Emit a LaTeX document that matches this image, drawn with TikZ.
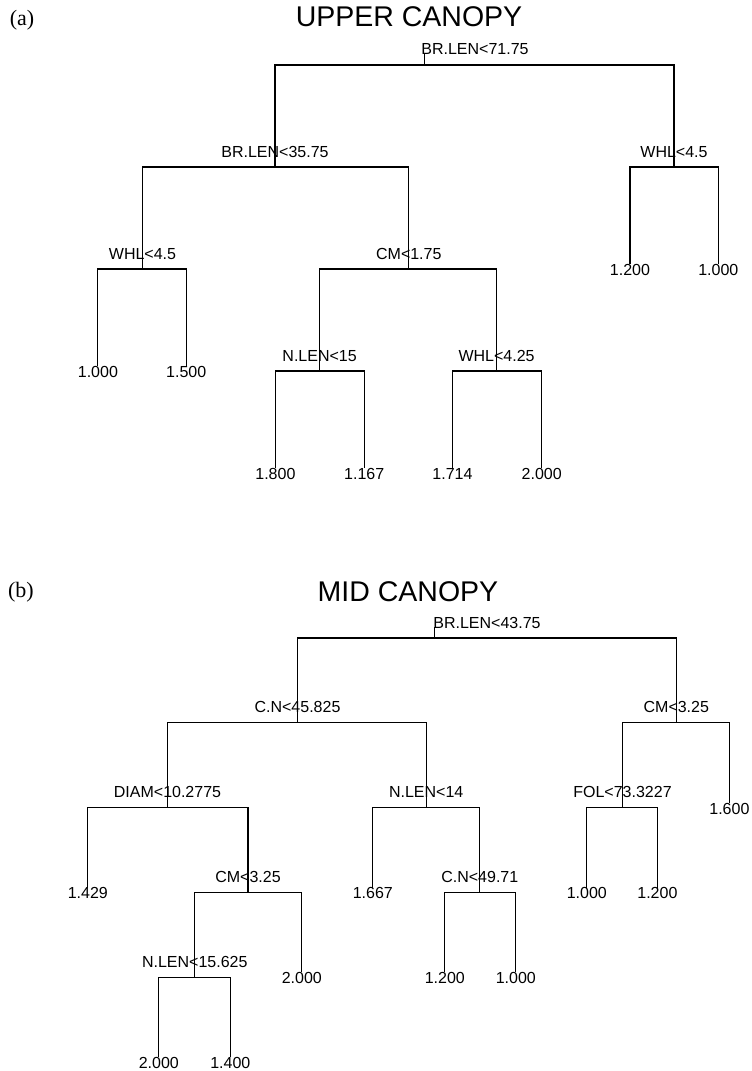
\documentclass[tikz,border=0pt]{standalone}
\usepackage{fontspec}
\setmainfont{Liberation Sans}
\newfontfamily\panelfont{Liberation Serif}
\usetikzlibrary{positioning}

\tikzset{
  branch/.style={line width=1.1pt},
  split/.style={font=\fontsize{16}{18}\selectfont, inner sep=0pt},
  leaf/.style={font=\fontsize{16}{18}\selectfont, inner sep=0pt},
  treetitle/.style={font=\fontsize{28.5}{32}\selectfont, inner sep=0pt},
  panel/.style={font=\panelfont\fontsize{22}{24}\selectfont, inner sep=0pt},
}

\begin{document}
\begin{tikzpicture}[x=1pt,y=-1pt]
  \useasboundingbox (0,0) rectangle (752,1071);

  % (a) upper canopy
  \node[panel] (pa) at (22,20) {(a)};
  \node[treetitle] (ttla) at (409,17) {UPPER CANOPY};

  \coordinate (a0top) at (424.7,54);
  \coordinate (a0) at (424.7,65);
  \node[split] (a0lab) at (475,49.5) {BR.LEN<71.75};
  \coordinate (a1) at (275,167);
  \coordinate (a2) at (674,167);
  \coordinate (a11) at (142.5,269);
  \coordinate (a12) at (408.8,269);
  \coordinate (a121) at (319.6,371);
  \coordinate (a122) at (496.6,371);
  \node[split,above=9.5pt] (a1lab) at (a1) {BR.LEN<35.75};
  \node[split,above=9.5pt] (a2lab) at (a2) {WHL<4.5};
  \node[split,above=9.5pt] (a11lab) at (a11) {WHL<4.5};
  \node[split,above=9.5pt] (a12lab) at (a12) {CM<1.75};
  \node[split,above=9.5pt] (a121lab) at (a121) {N.LEN<15};
  \node[split,above=9.5pt] (a122lab) at (a122) {WHL<4.25};

  \node[leaf] (a21) at (630,270) {1.200};
  \node[leaf] (a22) at (718.3,270) {1.000};
  \node[leaf] (a111) at (97.9,372) {1.000};
  \node[leaf] (a112) at (186.2,372) {1.500};
  \node[leaf] (a1211) at (275.4,474) {1.800};
  \node[leaf] (a1212) at (364.2,474) {1.167};
  \node[leaf] (a1221) at (452.5,474) {1.714};
  \node[leaf] (a1222) at (541.7,474) {2.000};

  \draw[branch] (a0top) -- (a0);
  \foreach \p/\c in {a0/a1, a0/a2, a1/a11, a1/a12, a12/a121, a12/a122,
                     a2/a21.north, a2/a22.north, a11/a111.north, a11/a112.north,
                     a121/a1211.north, a121/a1212.north,
                     a122/a1221.north, a122/a1222.north}
    \draw[branch] (\p) -| (\c);

  % (b) mid canopy
  \node[panel] (pb) at (21,592) {(b)};
  \node[treetitle] (ttlb) at (408,592) {MID CANOPY};

  \coordinate (b0top) at (434.7,627);
  \coordinate (b0) at (434.7,638);
  \node[split] (b0lab) at (487,622.5) {BR.LEN<43.75};
  \coordinate (b1) at (297.5,722.8);
  \coordinate (b2) at (676.3,722.8);
  \coordinate (b11) at (167.5,807.6);
  \coordinate (b12) at (426.2,807.6);
  \coordinate (b21) at (622.5,807.6);
  \coordinate (b112) at (248,892.4);
  \coordinate (b122) at (479.8,892.4);
  \coordinate (b1121) at (194.8,977.2);
  \node[split,above=9.5pt] (b1lab) at (b1) {C.N<45.825};
  \node[split,above=9.5pt] (b2lab) at (b2) {CM<3.25};
  \node[split,above=9.5pt] (b11lab) at (b11) {DIAM<10.2775};
  \node[split,above=9.5pt] (b12lab) at (b12) {N.LEN<14};
  \node[split,above=9.5pt] (b21lab) at (b21) {FOL<73.3227};
  \node[split,above=9.5pt] (b112lab) at (b112) {CM<3.25};
  \node[split,above=9.5pt] (b122lab) at (b122) {C.N<49.71};
  \node[split,above=9.5pt] (b1121lab) at (b1121) {N.LEN<15.625};

  \node[leaf] (b22) at (729.4,808.6) {1.600};
  \node[leaf] (b111) at (87.8,893.4) {1.429};
  \node[leaf] (b121) at (372.8,893.4) {1.667};
  \node[leaf] (b211) at (586.8,893.4) {1.000};
  \node[leaf] (b212) at (657.4,893.4) {1.200};
  \node[leaf] (b1122) at (301.8,978.2) {2.000};
  \node[leaf] (b1221) at (444.8,978.2) {1.200};
  \node[leaf] (b1222) at (515.8,978.2) {1.000};
  \node[leaf] (b11211) at (158.8,1063) {2.000};
  \node[leaf] (b11212) at (230.3,1063) {1.400};

  \draw[branch] (b0top) -- (b0);
  \foreach \p/\c in {b0/b1, b0/b2, b1/b11, b1/b12, b2/b21, b2/b22.north,
                     b11/b111.north, b11/b112, b12/b121.north, b12/b122,
                     b21/b211.north, b21/b212.north,
                     b112/b1121, b112/b1122.north,
                     b122/b1221.north, b122/b1222.north,
                     b1121/b11211.north, b1121/b11212.north}
    \draw[branch] (\p) -| (\c);
\end{tikzpicture}
\end{document}
